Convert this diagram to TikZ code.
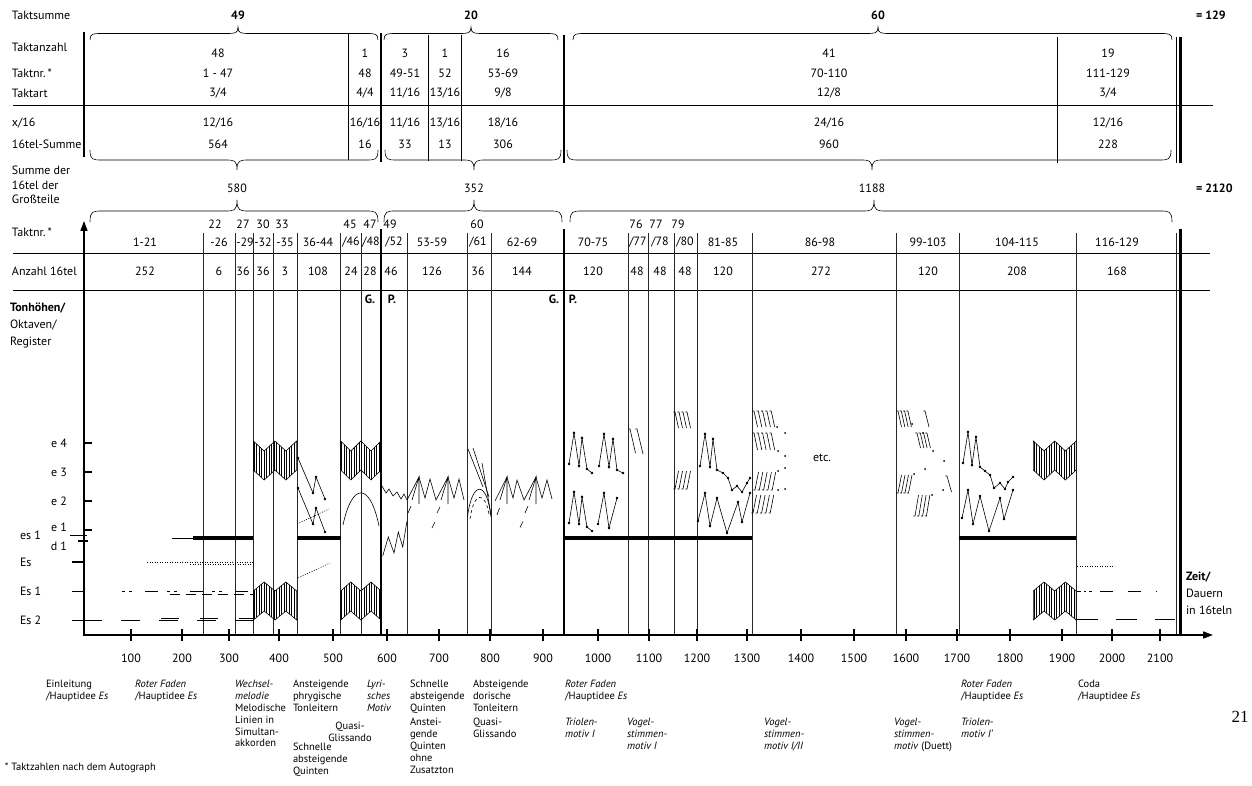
\documentclass[tikz,border=0pt]{standalone}
\usepackage{fontspec}
\setmainfont{PT Sans}
\newfontfamily\pagenumfont{Liberation Serif}
\usetikzlibrary{arrows.meta}
\newcommand{\brc}[5]{%
  \draw[thinl] ({#1},{#4}) .. controls ({#1},{#4+0.5*(#5)}) and ({#1+3},{#4+0.5*(#5)}) .. ({#1+12},{#4+0.5*(#5)})
   -- ({#3-12},{#4+0.5*(#5)}) .. controls ({#3-3},{#4+0.5*(#5)}) and ({#3},{#4+0.5*(#5)}) .. ({#3},{#4+(#5)})
   .. controls ({#3},{#4+0.5*(#5)}) and ({#3+3},{#4+0.5*(#5)}) .. ({#3+12},{#4+0.5*(#5)})
   -- ({#2-12},{#4+0.5*(#5)}) .. controls ({#2-3},{#4+0.5*(#5)}) and ({#2},{#4+0.5*(#5)}) .. ({#2},{#4});}
\newcommand{\hblock}[5]{%
  \begin{scope}
    \clip ({#1},{#3+#4}) -- ({#1+#2},{#3+#5}) -- ({#1+2*#2},{#3+#4}) -- ({#1+3*#2},{#3+#5}) -- ({#1+4*#2},{#3+#4})
      -- ({#1+4*#2},{#3+#4+29}) -- ({#1+3*#2},{#3+#5+29}) -- ({#1+2*#2},{#3+#4+29}) -- ({#1+#2},{#3+#5+29}) -- ({#1},{#3+#4+29}) -- cycle;
    \foreach \k in {0,...,17} \draw[line width=0.6pt] ({#1+0.9+\k*2.5},{#3-2}) -- ++(0,45);
  \end{scope}
  \draw[thinl,line join=miter] ({#1},{#3+#4}) -- ({#1+#2},{#3+#5}) -- ({#1+2*#2},{#3+#4}) -- ({#1+3*#2},{#3+#5}) -- ({#1+4*#2},{#3+#4})
      -- ({#1+4*#2},{#3+#4+29}) -- ({#1+3*#2},{#3+#5+29}) -- ({#1+2*#2},{#3+#4+29}) -- ({#1+#2},{#3+#5+29}) -- ({#1},{#3+#4+29}) -- cycle;}
\newcommand{\hk}[4]{\draw[thinl] ({#1-1.6},{#2}) -- ({#1},{#2}) -- ({#1+#4},{#2+#3});}
\newcommand{\jk}[4]{\draw[thinl] ({#1-1.6},{#2}) -- ({#1},{#2}) -- ({#1+#4},{#2-#3});}
\newcommand{\dt}[2]{\fill ({#1},{#2}) circle (1pt);}
\begin{document}
\begin{tikzpicture}[x=1pt,y=-1pt,
  every node/.style={inner sep=0pt,outer sep=0pt,font=\fontsize{12}{14}\selectfont},
  thinl/.style={line width=0.6pt},
  gridl/.style={line width=0.7pt,black!85},
  thickl/.style={line width=2.2pt},
  axisl/.style={line width=1.6pt},
  barl/.style={line width=4pt},
  rowlbl/.style={anchor=west},
  bf/.style={font=\fontsize{12}{14}\selectfont\bfseries},
  captl/.style={font=\fontsize{10.5}{11.8}\selectfont,anchor=north west,align=left},
  captc/.style={font=\fontsize{10.5}{11.8}\selectfont,anchor=north,align=center}
]
\useasboundingbox (0,0) rectangle (1252,786);

% ===== row labels
\node[rowlbl] (lTs) at (12,15) {Taktsumme};
\node[rowlbl] (lTa) at (12,47) {Taktanzahl};
\node[rowlbl] (lTn) at (12,73) {Taktnr.\,*};
\node[rowlbl] (lTart) at (12,93) {Taktart};
\node[rowlbl] (lx) at (12,123) {x/16};
\node[rowlbl] (l16) at (12,144) {16tel-Summe};
\node[anchor=north west,align=left,font=\fontsize{12}{14.5}\selectfont] (lSum) at (12,166) {Summe der\\16tel der\\Großteile};
\node[rowlbl] (lTn2) at (12,232) {Taktnr.\,*};
\node[rowlbl] (lAnz) at (12,271) {Anzahl 16tel};
\node[anchor=north west,align=left,font=\fontsize{12}{17}\selectfont] (lTon) at (10,302.5) {\textbf{Tonhöhen/}\\Oktaven/\\Register};

% ===== sums
\node[bf] (s49) at (238,15) {49};
\node[bf] (s20) at (471,15) {20};
\node[bf] (s60) at (878,15) {60};
\node[bf,anchor=west] (s129) at (1196,15) {= 129};
\node (g580) at (237,188) {580};
\node (g352) at (474,188) {352};
\node (g1188) at (872,188) {1188};
\node[bf,anchor=west] (s2120) at (1196,188) {= 2120};

% ===== braces
\brc{90}{378}{238}{40}{-13}
\brc{384}{558}{471}{40}{-13}
\brc{573}{1172}{878}{40}{-13}
\brc{90}{378}{237}{150}{20}
\brc{385}{561}{474}{150}{20}
\brc{567}{1171}{872}{150}{20}
\brc{90}{378}{237}{222}{-22}
\brc{384}{562}{474}{222}{-22}
\brc{570}{1172}{874}{222}{-22}

% ===== upper table lines
\draw[thinl] (13,105) -- (1213,105);
\draw[thickl] (84,32) -- (84,157);
\draw[thinl] (348,33) -- (348,160);
\draw[thickl] (381,33) -- (381,162);
\draw[thinl] (428,35) -- (428,161);
\draw[thinl] (461,35) -- (461,161);
\draw[thickl] (564,35) -- (564,163);
\draw[thinl] (1057,37) -- (1057,163);
\draw[thinl] (1176,37) -- (1176,163);
\draw[thickl] (1180.5,37) -- (1180.5,163);

% ===== upper table values
\foreach \cx/\a/\b/\c/\d/\e in {218/48/1 - 47/3\slash 4/12\slash 16/564, 365/1/48/4\slash 4/16\slash 16/16, 405/3/49-51/11\slash 16/11\slash 16/33, 445/1/52/13\slash 16/13\slash 16/13, 503/16/53-69/9\slash 8/18\slash 16/306, 829/41/70-110/12\slash 8/24\slash 16/960, 1108/19/111-129/3\slash 4/12\slash 16/228} {
  \node at (\cx,53) {\a};
  \node at (\cx,73) {\b};
  \node at (\cx,93) {\c};
  \node at (\cx,123) {\d};
  \node at (\cx,144) {\e};
}

% ===== lower table lines
\draw[thinl] (13,253) -- (1210,253);
\draw[thinl] (13,290) -- (1210,290);
\foreach \xx in {203,235,253,273,297,340,361,407,467,491,628,648,674,697,752,896,959,1076,1176}
  \draw[gridl] (\xx,233) -- (\xx,635);
\foreach \xx in {381,564,1180.5} \draw[thickl] (\xx,229) -- (\xx,635);

% ===== lower table labels
\foreach \xx/\t in {215/22,243/27,263/30,282/33,350/45,370/47,390/49,477/60,636/76,656/77,678/79}
  \node at (\xx,224) {\t};
\foreach \xx/\t in {145/1-21,219/-26,245/-29,263/-32,285/-35,318/36-44,351/\slash 46,371/\slash 48,394/\slash 52,432/53-59,478/\slash 61,522/62-69,593/70-75,638/\slash 77,660/\slash 78,685/\slash 80,723/81-85,820/86-98,928/99-103,1017/104-115,1117/116-129}
  \node at (\xx,242) {\t};
\foreach \xx/\t in {145/252,219/6,243/36,263/36,285/3,318/108,351/24,370/28,391/46,432/126,478/36,522/144,593/120,637/48,660/48,685/48,723/120,821/272,928/120,1017/208,1117/168}
  \node at (\xx,271) {\t};
\node[bf] (gp1) at (370,299) {G.};
\node[bf] (gp2) at (392,299) {P.};
\node[bf] (gp3) at (554,299) {G.};
\node[bf] (gp4) at (573,299) {P.};

% ===== axes
\coordinate (O) at (84,636);
\coordinate (Ytip) at (84,221);
\coordinate (X0) at (83,635);
\coordinate (Xtip) at (1213,635);
\draw[axisl,-{Triangle[length=10pt,width=7pt]}] (O) -- (Ytip);
\draw[axisl,-{Triangle[length=10pt,width=7pt]}] (X0) -- (Xtip);
\foreach \xx/\lab in {131/100,182/200,229/300,279/400,333/500,387/600,439/700,490/800,543/900,598/1000,649/1100,697/1200,747/1300,801/1400,854/1500,906/1600,957/1700,1010/1800,1062/1900,1112/2000,1160/2100} {
  \draw[axisl] (\xx,629) -- (\xx,641);
  \node at (\xx,658) {\lab};
}
\foreach \yy/\lab in {443/e 4,472/e 3,501/e 2} {
  \draw[axisl] (84,\yy) -- (92,\yy);
  \node[anchor=east] at (67,\yy) {\lab};
}
\draw[axisl] (84,530) -- (92,530); \node[anchor=east] at (67,527) {e 1};
\draw[axisl] (70,535.5) -- (87,535.5); \node[anchor=west] at (20,535) {es 1};
\draw[axisl] (78,541) -- (88,541); \node[anchor=east] at (67,546) {d 1};
\draw[axisl] (72,562) -- (83,562); \node[anchor=west] at (20,562) {Es};
\draw[axisl] (72,591.5) -- (83,591.5); \node[anchor=west] at (20,591.5) {Es 1};
\draw[axisl] (72,620.5) -- (83,620.5); \node[anchor=west] at (20,620.5) {Es 2};

% ===== Es lines (left)
\draw[thinl,dash pattern=on 19pt off 19pt] (83,620.5) -- (254,620.5);
\draw[thinl,dash pattern=on 18pt off 21pt] (161,618) -- (253,618);
\draw[thinl,dash pattern=on 3pt off 4pt on 3pt off 13pt on 13pt off 9pt] (122,591.5) -- (253,591.5);
\draw[thinl,dash pattern=on 10pt off 6pt] (170,594) -- (253,594);
\draw[thinl,dash pattern=on 1pt off 1.5pt] (147,562) -- (253,562);
\draw[thinl,dash pattern=on 1pt off 1.5pt] (190,564.5) -- (253,564.5);
\draw[thinl] (172,538) -- (193,538);
\draw[barl] (193,538) -- (253,538);
\draw[barl] (297,538) -- (341,538);
\draw[barl] (564,538) -- (752,538);
\draw[barl] (959,538) -- (1076,538);

% ===== hatched blocks
\hblock{253.3}{10.85}{441}{0}{10}
\hblock{340.7}{10.1}{441}{0}{10}
\hblock{1033.3}{10.7}{441}{0}{10}
\hblock{253.3}{10.85}{582}{9}{0}
\hblock{340.7}{10.1}{582}{9}{0}
\hblock{1033.3}{10.7}{582}{9}{0}

% ===== phrygian / fifths
\draw[thinl] plot[mark=*,mark size=0.9pt] coordinates {(298,458) (313,493) (316,477) (325,499)};
\draw[thinl] plot[mark=*,mark size=0.9pt] coordinates {(298,488) (313,524) (316,508) (325,532)};
\draw[thinl,dash pattern=on 1pt off 1.5pt] (297,524) -- (329,509);
\draw[thinl,dash pattern=on 1pt off 1.5pt] (298,578) -- (330,563);
% quasi glissando arc
\draw[thinl] (343,525) .. controls (352,482) and (370,482) .. (379,526);
% lyrisches Motiv
\draw[thinl] (382,486) -- (386,493) -- (389,489) -- (393,496) -- (397,492) -- (401,499) -- (404,494) -- (407,500);
\draw[thinl] (382.7,556) -- (388.3,537) -- (394,553) -- (398.3,532) -- (402.7,547) -- (407,521);
% 53-59
\draw[thinl] (407,500) -- (419,477) -- (425,498) -- (430,479) -- (436,500) -- (448,477) -- (454,498) -- (459,479) -- (464,500);
\draw[thinl] (412,500) -- (419,477) -- (419,504);
\draw[thinl] (441,500) -- (448,477) -- (448,504);
\draw[thinl] (408,513) -- (411,506);
\draw[thinl] (432,528) -- (435,522);
\draw[thinl] (437,513) -- (440,507);
% 60/61
\draw[thinl] (468,449) -- (483,487);
\draw[thinl] (473,448) -- (489,497);
\draw[thinl] (482,463) -- (491,515);
\draw[thinl] (467.5,517) .. controls (472,480) and (487,480) .. (491,517);
\draw[thinl,dash pattern=on 3pt off 3pt] (470,519) .. controls (474,491) and (485,491) .. (489,514);
% 62-69
\draw[thinl] (495,501) -- (507,477) -- (513,498) -- (517,480) -- (524,500) -- (536,477) -- (542,498) -- (547,480) -- (552,499);
\draw[thinl] (500,500) -- (507,477) -- (507,504);
\draw[thinl] (529,500) -- (536,477) -- (536,504);
\draw[thinl] (497,515) -- (499.5,508);
\draw[thinl] (520,527.5) -- (523,521.5);
\draw[thinl] (525,513) -- (528,506);

% ===== Triolen I
\draw[thinl] plot[mark=*,mark size=0.9pt] coordinates {(569,464) (574,433) (579,466) (582,438) (587,469) (592,473)};
\draw[thinl] plot[mark=*,mark size=0.9pt] coordinates {(599,466) (604,434) (609,467) (613,439) (617,470) (623,473)};
\draw[thinl] plot[mark=*,mark size=0.9pt] coordinates {(569,523) (574,492) (579,524) (582,497) (587,527) (592,531)};
\draw[thinl] plot[mark=*,mark size=0.9pt] coordinates {(598,524) (604,493) (609,528) (617,498)};
% Vogelstimmen I
\hk{630}{429}{24}{5.5}
\hk{637}{429}{25}{6}
% 79/80
\foreach \i in {0,...,3} {\hk{675+\i*4}{412}{16}{3.5}}
\foreach \i in {0,...,3} {\jk{675+\i*4}{489}{18}{3.5}}
% 81-85
\draw[thinl] plot[mark=*,mark size=0.9pt] coordinates {(700,466) (705,434) (710,467) (713,439) (717,470) (723,473) (728,478) (732,490) (737,486) (742,492) (747,483) (750,478)};
\draw[thinl] plot[mark=*,mark size=0.9pt] coordinates {(698,521) (705,493) (710,526) (717,498) (727,533) (738,502) (742,522) (750,493)};
% 86-98
\foreach \i in {0,...,4} {\hk{754+\i*4.3}{411}{16}{3.5}}
\foreach \i in {0,...,4} {\hk{754+\i*4.3}{433}{17}{3.5}}
\foreach \i in {0,...,4} {\jk{755+\i*4.3}{490}{18}{3.5}}
\foreach \i in {0,...,4} {\jk{753+\i*4.3}{513}{18}{3.5}}
\dt{777}{427} \dt{785}{433} \dt{778}{451} \dt{785}{456}
\dt{778}{471} \dt{785}{468} \dt{778}{490} \dt{785}{489}
\node (etc) at (822,458) {etc.};
% Duett
\foreach \i in {0,...,3} {\hk{898+\i*3.3}{411}{16}{3.5}}
\dt{912}{424}
\hk{925}{411}{16}{4}
\foreach \i in {0,...,3} {\hk{917+\i*3.3}{433}{15}{3.5}}
\dt{923}{433} \dt{933}{451} \dt{944}{461}
\foreach \i in {0,...,3} {\jk{898+\i*3.5}{493}{18}{3.5}}
\dt{914}{474} \dt{925}{469}
\hk{947}{476}{16}{4.5}
\dt{943}{490}
\foreach \i in {0,...,3} {\jk{915+\i*3.8}{516}{21}{3.5}}
\dt{932}{495}
% Triolen I'
\draw[thinl] plot[mark=*,mark size=0.9pt] coordinates {(963,463) (968,432) (972,465) (976,437) (980,467) (985,471) (990,475) (994,488) (1000,483) (1005,489) (1008,482) (1013,477)};
\draw[thinl] plot[mark=*,mark size=0.9pt] coordinates {(962,518) (968,490) (973,524) (980,496) (989,531) (1000,498) (1004,519) (1013,490)};
% Coda lines
\draw[thinl,dash pattern=on 1pt off 1.5pt] (1077,566) -- (1113,566);
\draw[thinl,dash pattern=on 4pt off 3pt on 2pt off 3pt] (1077,591) -- (1092,591);
\draw[thinl,dash pattern=on 13pt off 15pt] (1100,591) -- (1157,591);
\draw[thinl,dash pattern=on 21pt off 18pt] (1077,619.5) -- (1175,619.5);

\node[anchor=north west,align=left,font=\fontsize{12}{17}\selectfont] (zeit) at (1186,571.5) {\textbf{Zeit/}\\Dauern\\in 16teln};

% ===== captions
\node[captl] (c1) at (46,680.5) {Einleitung\\/Hauptidee \textit{Es}};
\node[captl] (c2) at (135,680.5) {\textit{Roter Faden}\\/Hauptidee \textit{Es}};
\node[captl] (c3) at (235,680.5) {\textit{Wechsel-}\\\textit{melodie}\\Melodische\\Linien in\\Simultan-\\akkorden};
\node[captl] (c4) at (293,680.5) {Ansteigende\\phrygische\\Tonleitern};
\node[captc] (c5) at (350,722.5) {Quasi-\\Glissando};
\node[captl] (c6) at (293,743) {Schnelle\\absteigende\\Quinten};
\node[captl] (c7) at (367,680.5) {\textit{Lyri-}\\\textit{sches}\\\textit{Motiv}};
\node[captl] (c8) at (410,680.5) {Schnelle\\absteigende\\Quinten};
\node[captl] (c9) at (410,718.5) {Anstei-\\gende\\Quinten\\ohne\\Zusatzton};
\node[captl] (c10) at (473,680.5) {Absteigende\\dorische\\Tonleitern};
\node[captl] (c11) at (473,718.5) {Quasi-\\Glissando};
\node[captl] (c12) at (565,680.5) {\textit{Roter Faden}\\/Hauptidee \textit{Es}};
\node[captl] (c13) at (565,718.5) {\textit{Triolen-}\\\textit{motiv I}};
\node[captl] (c14) at (627,718.5) {\textit{Vogel-}\\\textit{stimmen-}\\\textit{motiv I}};
\node[captl] (c15) at (764,718.5) {\textit{Vogel-}\\\textit{stimmen-}\\\textit{motiv I/II}};
\node[captl] (c16) at (894,718.5) {\textit{Vogel-}\\\textit{stimmen-}\\\textit{motiv} (Duett)};
\node[captl] (c17) at (961,718.5) {\textit{Triolen-}\\\textit{motiv I'}};
\node[captl] (c18) at (961,680.5) {\textit{Roter Faden}\\/Hauptidee \textit{Es}};
\node[captl] (c19) at (1078,680.5) {Coda\\/Hauptidee \textit{Es}};
\node[anchor=west,font=\fontsize{10.5}{12}\selectfont] (foot) at (5,768) {* Taktzahlen nach dem Autograph};
\node[font=\pagenumfont\fontsize{17}{20}\selectfont] (pg) at (1240,717) {21};
\end{tikzpicture}
\end{document}
